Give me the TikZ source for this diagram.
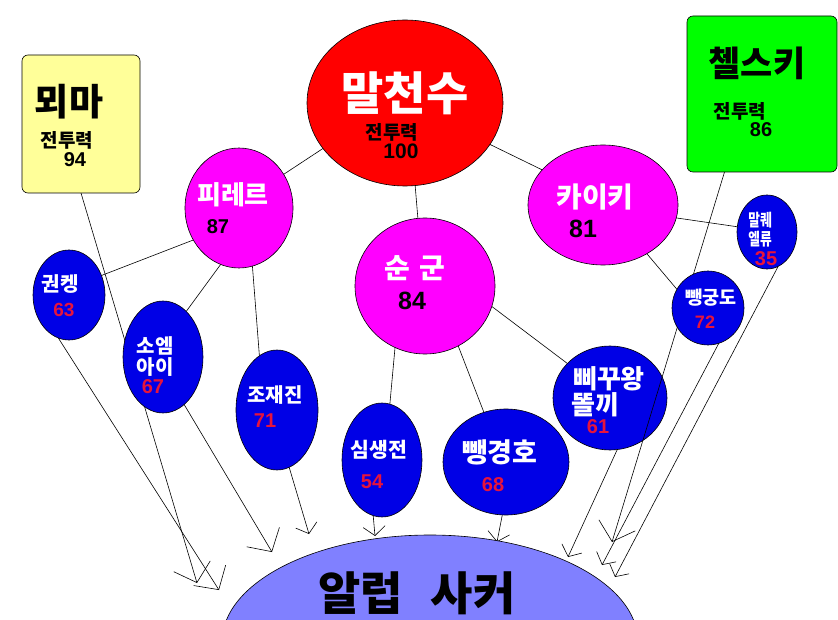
\documentclass[tikz,border=0pt]{standalone}
\usepackage{fontspec}
\usepackage{graphicx}
\newfontfamily\kr{Noto Sans CJK KR}
\newfontfamily\ar{Liberation Sans}
\usetikzlibrary{shapes.geometric,arrows.meta,calc}
\pgfdeclarelayer{background}
\pgfsetlayers{background,main}
\definecolor{ylw}{RGB}{255,255,153}
\definecolor{rd}{RGB}{255,0,0}
\definecolor{grn}{RGB}{0,255,0}
\definecolor{mag}{RGB}{255,0,255}
\definecolor{blu}{RGB}{0,0,230}
\definecolor{lav}{RGB}{128,128,255}
\definecolor{numred}{RGB}{230,20,60}
\newcommand\krt[2]{{\kr\bfseries\fontsize{#1}{#1}\selectfont #2}}
\newcommand\numt[2]{{\ar\bfseries\fontsize{#1}{#1}\selectfont #2}}
\tikzset{
 shp/.style={draw=black, line width=0.6pt, inner sep=0pt, outer sep=0pt},
 ell/.style={shp, ellipse},
 box/.style={shp, rectangle, rounded corners=6pt},
 lbl/.style={inner sep=0pt, outer sep=0pt, anchor=center},
 link/.style={draw=black, line width=0.6pt},
 bigarr/.style={link, -{Straight Barb[length=17pt,width=38pt]}},
 smallarr/.style={link, -{Straight Barb[length=9pt,width=22pt]}},
}
\begin{document}
\begin{tikzpicture}[x=1pt,y=-1pt]
\useasboundingbox (0,0) rectangle (838,620);
\begin{pgfonlayer}{background}
\fill[white] (0,0) rectangle (838,620);
\end{pgfonlayer}
% shapes
\node[ell, fill=lav, minimum width=416pt, minimum height=214pt] (alr) at (430,642) {};
\node[box, fill=ylw, minimum width=118pt, minimum height=138pt] (moema) at (81,124) {};
\node[ell, fill=rd, minimum width=196pt, minimum height=166pt] (mal) at (405,103) {};
\node[box, fill=grn, minimum width=150pt, minimum height=156pt] (chel) at (762,94) {};
\node[ell, fill=mag, minimum width=108pt, minimum height=120pt] (pir) at (239,208) {};
\node[ell, fill=mag, minimum width=150pt, minimum height=120pt] (kai) at (603,205) {};
\node[ell, fill=mag, minimum width=140pt, minimum height=136pt] (sun) at (425,286) {};
\node[ell, fill=blu, minimum width=60pt, minimum height=74pt] (malq) at (767,232) {};
\node[ell, fill=blu, minimum width=72pt, minimum height=90pt] (kwon) at (69,295) {};
\node[ell, fill=blu, minimum width=80pt, minimum height=112pt] (soem) at (163,357) {};
\node[ell, fill=blu, minimum width=82pt, minimum height=120pt] (jo) at (277,410) {};
\node[ell, fill=blu, minimum width=80pt, minimum height=114pt] (sim) at (382,460) {};
\node[ell, fill=blu, minimum width=126pt, minimum height=106pt] (ppk) at (506,462) {};
\node[ell, fill=blu, minimum width=114pt, minimum height=104pt] (bbi) at (610,398) {};
\coordinate (t8) at (612,542);
\draw[bigarr] ($(chel.south west)!0.25!(chel.south east)$) -- (t8);
\node[ell, fill=blu, minimum width=72pt, minimum height=74pt] (ppg) at (708,308) {};
% arrow tips
\coordinate (t1) at (197,583);
\coordinate (t2) at (219,590);
\coordinate (t3) at (272,552);
\coordinate (t4) at (309,534);
\coordinate (t5) at (375,536);
\coordinate (t6) at (497,542);
\coordinate (t7) at (568,557);
\coordinate (t9) at (602,565);
\coordinate (t10) at (615,577);
\begin{pgfonlayer}{background}
\draw[link] (mal.209) -- (pir.37);
\draw[link] (mal.334) -- (kai.150);
\draw[link] (mal.277) -- (sun.96);
\draw[link] (pir.215) -- (kwon.31);
\draw[link] (pir.252) -- (soem.63);
\draw[link] (pir.283) -- (jo.108);
\draw[link] (sun.244) -- (sim.82);
\draw[link] (sun.299) -- (ppk.114);
\draw[link] (sun.343) -- (bbi.141);
\draw[link] (kai.350) -- (malq.170);
\draw[link] (kai.312) -- (ppg.149);
\draw[bigarr] (moema.south) -- (t1);
\draw[bigarr] (kwon.256) -- (t2);
\draw[bigarr] (soem.294) -- (t3);
\draw[smallarr] (jo.282) -- (t4);
\draw[smallarr] (sim.261) -- (t5);
\draw[smallarr] (ppk.266) -- (t6);
\draw[smallarr] (bbi.278) -- (t7);
\draw[smallarr] (ppg.287) -- (t9);
\draw[smallarr] (malq.288) -- (t10);
\end{pgfonlayer}
% texts
\node[lbl] (tmoema) at (69,102) {\krt{37}{뫼마}};
\node[lbl] (tmoemaA) at (67,140) {\krt{19}{전투력}};
\node[lbl] (tmoemaB) at (75,160) {\numt{20}{94}};
\node[lbl, text=white] (tmal) at (405,93) {\krt{46}{말천수}};
\node[lbl] (tmalA) at (392,132) {\krt{19}{전투력}};
\node[lbl] (tmalB) at (401,151) {\numt{21}{100}};
\node[lbl] (tchel) at (757,63) {\krt{35}{첼스키}};
\node[lbl] (tchelA) at (740,111) {\krt{19}{전투력}};
\node[lbl] (tchelB) at (761,130) {\numt{20}{86}};
\node[lbl, text=white] (tpir) at (233,195) {\krt{26}{피레르}};
\node[lbl] (tpirB) at (218,227) {\numt{20}{87}};
\node[lbl, text=white] (tkai) at (595,197) {\krt{28}{카이키}};
\node[lbl] (tkaiB) at (583,229) {\numt{25}{81}};
\node[lbl, text=white] (tsun) at (415,268) {\krt{28}{순\hspace{0.35em}군}};
\node[lbl] (tsunB) at (412,301) {\numt{25}{84}};
\node[lbl, text=white] (tmalq) at (760,220) {\scalebox{0.75}[1]{\krt{17}{말퀘}}};
\node[lbl, text=white] (tmalqA) at (760,239) {\scalebox{0.75}[1]{\krt{17}{엘류}}};
\node[lbl, text=numred] (tmalqB) at (766,259) {\numt{20}{35}};
\node[lbl, text=white] (tppg) at (711,298) {\krt{18.5}{뺑궁도}};
\node[lbl, text=numred] (tppgB) at (705,322) {\numt{18}{72}};
\node[lbl, text=white] (tkwon) at (60,284) {\krt{20}{권켕}};
\node[lbl, text=numred] (tkwonB) at (64,310) {\numt{19}{63}};
\node[lbl, text=white] (tsoem) at (155,346) {\krt{20}{소엠}};
\node[lbl, text=white] (tsoemA) at (155,367) {\krt{20}{아이}};
\node[lbl, text=numred] (tsoemB) at (153,387) {\numt{20}{67}};
\node[lbl, text=white] (tjo) at (275,395) {\krt{20}{조재진}};
\node[lbl, text=numred] (tjoB) at (265,421) {\numt{20}{71}};
\node[lbl, text=white] (tsim) at (379,450) {\krt{20.5}{심생전}};
\node[lbl, text=numred] (tsimB) at (372,482) {\numt{20}{54}};
\node[lbl, text=white] (tppk) at (500,452) {\krt{27}{뺑경호}};
\node[lbl, text=numred] (tppkB) at (493,485) {\numt{20}{68}};
\node[lbl, text=white] (tbbi) at (609,379) {\krt{26}{삐꾸왕}};
\node[lbl, text=white] (tbbiA) at (595,405) {\krt{26}{똘끼}};
\node[lbl, text=numred] (tbbiB) at (598,427) {\numt{20}{61}};
\node[lbl] (talr) at (417,593) {\krt{46}{알럽\hspace{0.6em}사커}};
\end{tikzpicture}
\end{document}
